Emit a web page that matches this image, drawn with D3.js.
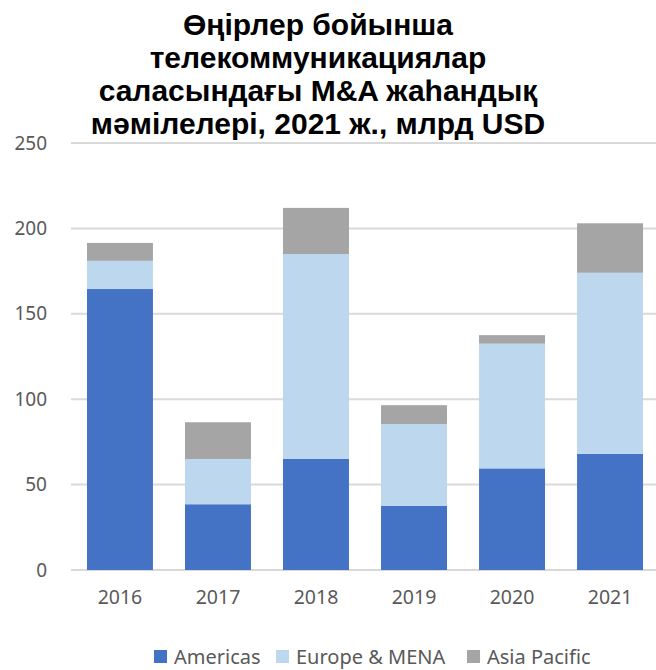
<!DOCTYPE html>
<html>
<head>
<meta charset="utf-8">
<script src="https://cdn.jsdelivr.net/npm/d3@7"></script>
<style>
  body { margin: 0; background: #fff; }
</style>
</head>
<body>
<div id="chart"></div>
<script>
var years = ["2016", "2017", "2018", "2019", "2020", "2021"];
var americas = [164.5, 38.5, 65, 37.5, 59.5, 68];
var europeMena = [16.5, 26.5, 120, 48, 73, 106];
var asiaPacific = [10.5, 21.5, 27, 11, 5, 29];
var seriesNames = ["Americas", "Europe & MENA", "Asia Pacific"];
var yTicks = [0, 50, 100, 150, 200, 250];
var titleLines = ["Өңірлер бойынша", "телекоммуникациялар", "саласындағы M&A жаһандық", "мәмілелері, 2021 ж., млрд USD"];

var pal = {
  "americas": "#4472C4",
  "europe": "#BDD7EE",
  "asia": "#A5A5A5",
  "grid": "#D9D9D9",
  "text": "#595959"
};
var colors = [pal.americas, pal.europe, pal.asia];

var W = 656, H = 670;
var font = "'Noto Sans', sans-serif";

var data = years.map(function(y, i) {
  return { year: y, americas: americas[i], europe: europeMena[i], asia: asiaPacific[i] };
});
var stack = d3.stack().keys(["americas", "europe", "asia"])(data);

var svg = d3.select("#chart").append("svg")
    .attr("width", W)
    .attr("height", H);

var x = d3.scaleBand()
    .domain(years)
    .range([71, 659])
    .paddingInner(0.327)
    .paddingOuter(0.163);

var y = d3.scaleLinear()
    .domain([0, 250])
    .range([570, 143]);

// gridlines
svg.append("g")
  .selectAll("line")
  .data(yTicks)
  .join("line")
    .attr("x1", 71)
    .attr("x2", W)
    .attr("y1", function(d) { return y(d); })
    .attr("y2", function(d) { return y(d); })
    .attr("stroke", pal.grid)
    .attr("stroke-width", 2);

// y axis labels
var yAxis = svg.append("g")
    .attr("transform", "translate(47,0)")
    .call(d3.axisLeft(y).tickValues(yTicks).tickSize(0).tickPadding(0));
yAxis.select(".domain").remove();
yAxis.selectAll("text")
    .attr("font-family", font)
    .attr("font-size", "19px")
    .attr("fill", pal.text);

// bars
svg.append("g")
  .selectAll("g")
  .data(stack)
  .join("g")
    .attr("fill", function(d, i) { return colors[i]; })
  .selectAll("rect")
  .data(function(d) { return d; })
  .join("rect")
    .attr("x", function(d) { return x(d.data.year); })
    .attr("y", function(d) { return y(d[1]); })
    .attr("height", function(d) { return y(d[0]) - y(d[1]); })
    .attr("width", x.bandwidth());

// x axis labels
var xAxis = svg.append("g")
    .attr("transform", "translate(0,590)")
    .call(d3.axisBottom(x).tickSize(0).tickPadding(0));
xAxis.select(".domain").remove();
xAxis.selectAll("text")
    .attr("font-family", font)
    .attr("font-size", "19.5px")
    .attr("fill", pal.text);

// title
svg.append("text")
    .attr("text-anchor", "middle")
    .attr("font-family", "'Liberation Sans', Arial, sans-serif")
    .attr("font-weight", "bold")
    .attr("font-size", "30px")
    .attr("fill", "#000")
  .selectAll("tspan")
  .data(titleLines)
  .join("tspan")
    .attr("x", 318)
    .attr("y", function(d, i) { return 35 + i * 33; })
    .text(function(d) { return d; });

// legend
var legendX = [154, 276, 467];
var legend = svg.append("g")
  .selectAll("g")
  .data(seriesNames)
  .join("g")
    .attr("transform", function(d, i) { return "translate(" + legendX[i] + ",650)"; });
legend.append("rect")
    .attr("width", 13)
    .attr("height", 13)
    .attr("fill", function(d, i) { return colors[i]; });
legend.append("text")
    .attr("x", 20)
    .attr("y", 7)
    .attr("dy", "0.35em")
    .attr("font-family", font)
    .attr("font-size", "20px")
    .attr("fill", pal.text)
    .text(function(d) { return d; });
</script>
</body>
</html>
